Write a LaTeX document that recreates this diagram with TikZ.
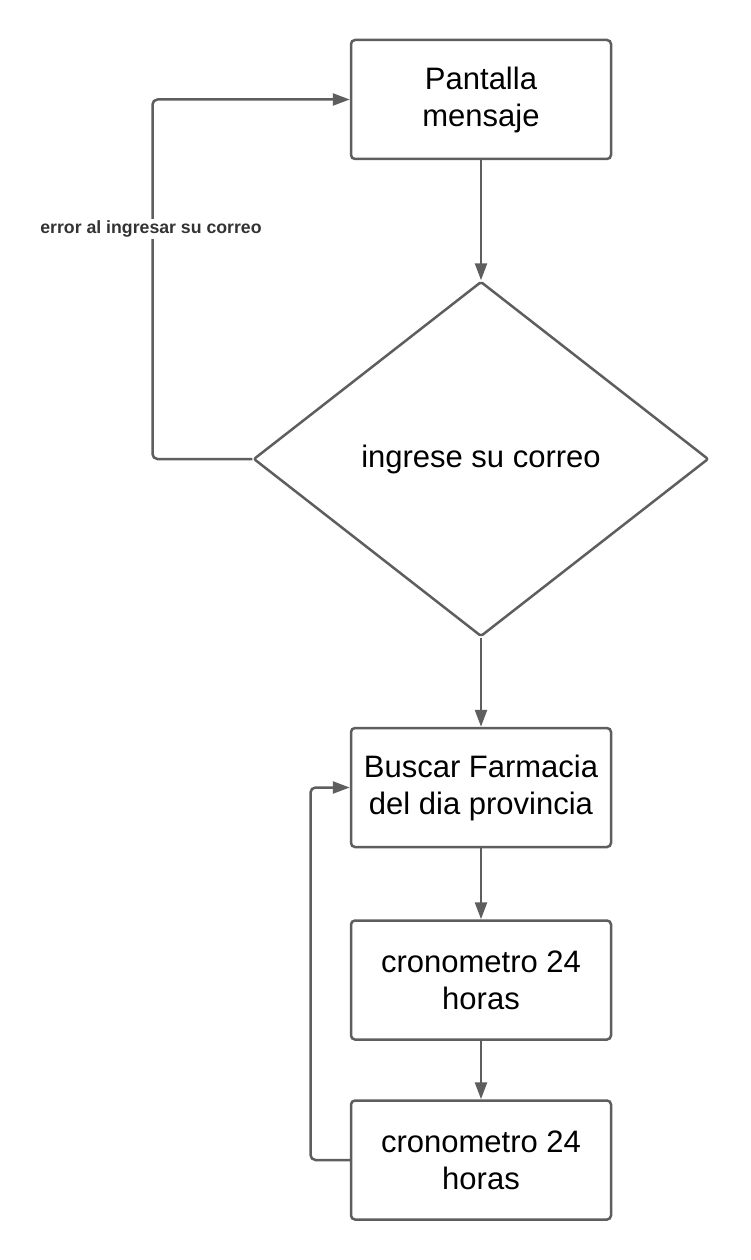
\documentclass[tikz,border=0pt]{standalone}
\usepackage{fontspec}
\setmainfont{Liberation Sans}
\usetikzlibrary{shapes.geometric,arrows.meta}
\definecolor{ln}{HTML}{5E5E5E}
\definecolor{lbl}{HTML}{333333}
\tikzset{
  procbox/.style={draw=ln, line width=2.5pt, rounded corners=4pt, minimum width=260pt, minimum height=119pt, inner sep=0pt, align=center, font=\fontsize{31}{37}\selectfont, fill=white},
  decision/.style={draw=ln, line width=2.5pt, shape=diamond, minimum width=455pt, minimum height=355pt, inner sep=0pt, font=\fontsize{31}{37}\selectfont, rounded corners=2pt},
  conn/.style={draw=ln, line width=2.5pt, rounded corners=5pt, -{Triangle[length=17pt,width=12pt]}},
  lab/.style={fill=white, text=lbl, font=\bfseries\fontsize{17.7}{20}\selectfont, inner sep=2pt}
}
\begin{document}
\begin{tikzpicture}[x=1pt,y=-1pt]
\useasboundingbox (0,0) rectangle (751,1260);
\node[procbox] (b1) at (481,99.5) {Pantalla\\mensaje};
\node[decision] (d) at (481,459) {ingrese su correo};
\node[procbox] (b2) at (481,787.5) {Buscar Farmacia\\del dia provincia};
\node[procbox] (b3) at (481,980) {cronometro 24\\horas};
\node[procbox] (b4) at (481,1160) {cronometro 24\\horas};
\coordinate (c1) at (152.5,459);
\coordinate (c2) at (152.5,99.5);
\coordinate (c3) at (310.5,1160);
\coordinate (c4) at (310.5,787.5);
\draw[conn] (b1.south) -- (d.north);
\draw[conn] (d.west) -- (c1) -- (c2) -- (b1.west);
\node[lab] (l1) at (151,229) {error al ingresar su correo};
\draw[conn] (d.south) -- (b2.north);
\draw[conn] (b2.south) -- (b3.north);
\draw[conn] (b3.south) -- (b4.north);
\draw[conn] (b4.west) -- (c3) -- (c4) -- (b2.west);
\end{tikzpicture}
\end{document}
